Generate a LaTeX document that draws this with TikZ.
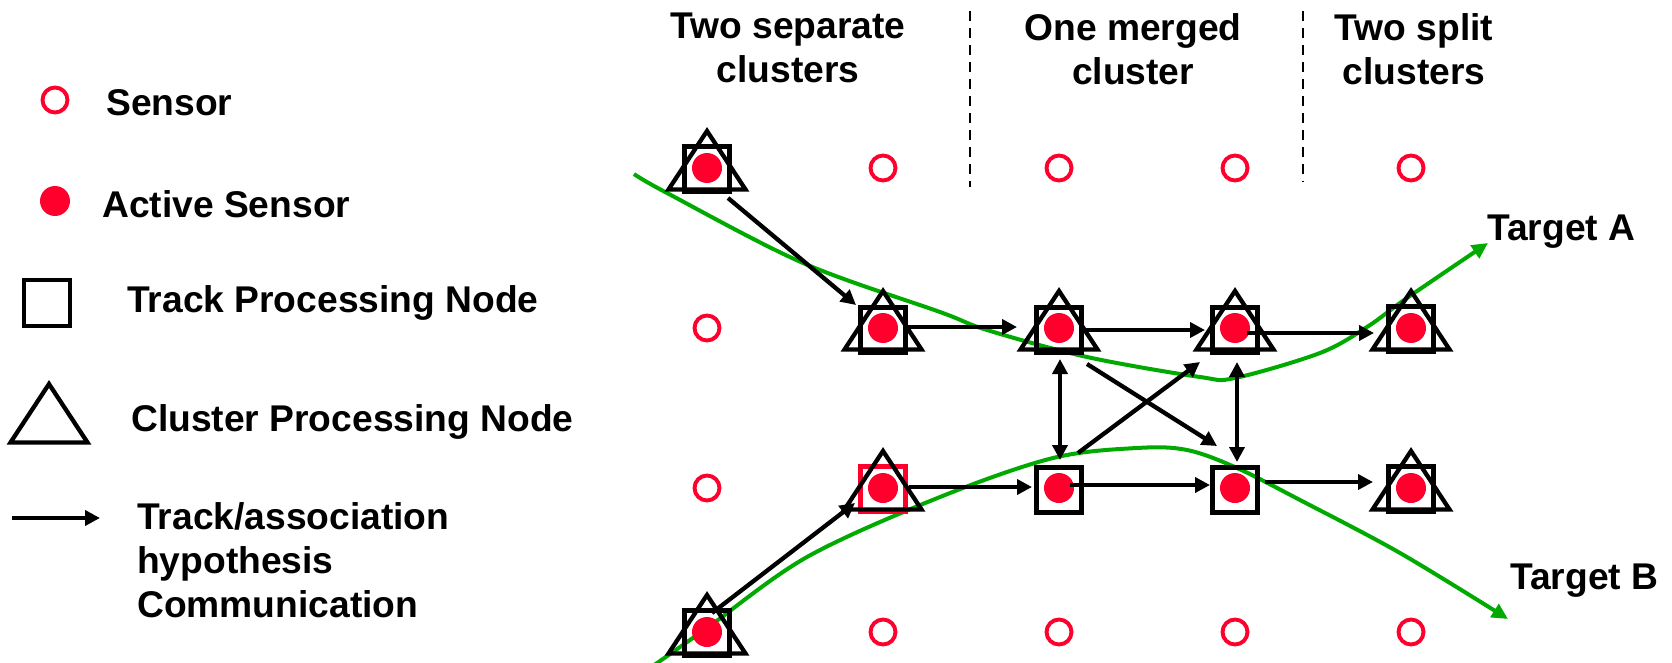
\documentclass[tikz,border=0pt]{standalone}
\usepackage{fontspec}
\setmainfont{Liberation Sans}
\usetikzlibrary{arrows.meta,calc}
\definecolor{sred}{RGB}{255,0,45}
\definecolor{sgreen}{RGB}{0,170,0}
\begin{document}
\begin{tikzpicture}[x=1pt,y=-1pt,
  lbl/.style={font=\fontsize{37.2}{44}\selectfont\bfseries, inner sep=0pt},
  sensor/.style={circle, draw=sred, line width=3.9pt, minimum size=25pt, inner sep=0pt},
  active/.style={circle, fill=sred, minimum size=30pt, inner sep=0pt},
  tpn/.style={draw, line width=4.3pt, minimum size=45pt, inner sep=0pt},
  comm/.style={line width=4.3pt, -{Triangle[length=15pt,width=15pt]}},
  both/.style={line width=4.3pt, {Triangle[length=15pt,width=15pt]}-{Triangle[length=15pt,width=15pt]}},
  track/.style={line width=4pt, sgreen, -{Triangle[length=16pt,width=15pt]}},
  divider/.style={line width=2.4pt, dash pattern=on 10pt off 7pt},
  cpn/.pic={\draw[line width=4.3pt, miter limit=10] (0,-37) -- (38.5,21.5) -- (-38.5,21.5) -- cycle;}
]
\useasboundingbox (0,0) rectangle (1672,663);

% ---------- legend ----------
\node[sensor] (lsen) at (55,100) {};
\node[lbl, anchor=base west] (tsen) at (106,116) {Sensor};
\node[active] (lact) at (55,201) {};
\node[lbl, anchor=base west] (tact) at (102,217) {Active Sensor};
\node[draw, line width=3.6pt, minimum size=46pt, inner sep=0pt] (ltpn) at (47,303) {};
\node[lbl, anchor=base west] (ttpn) at (127,312) {Track Processing Node};
\coordinate (lcpn) at (49,421);
\pic at (lcpn) {cpn};
\node[lbl, anchor=base west] (tcpn) at (131,431) {Cluster Processing Node};
\coordinate (la) at (12,518);
\coordinate (lb) at (100,518);
\draw[comm] (la) -- (lb);
\node[lbl, anchor=north west, align=left] (tcomm) at (137,502) {Track/association\\hypothesis\\Communication};

% ---------- header ----------
\node[lbl, anchor=north, align=center] (h1) at (788,13) {Two separate\\clusters};
\node[lbl, anchor=north, align=center] (h2) at (1133,13) {One merged\\cluster};
\node[lbl, anchor=north, align=center] (h3) at (1414,13) {Two split\\clusters};
\coordinate (d1a) at (970,11); \coordinate (d1b) at (970,187);
\coordinate (d2a) at (1303,11); \coordinate (d2b) at (1303,182);
\draw[divider] (d1a) -- (d1b);
\draw[divider] (d2a) -- (d2b);

% ---------- positions ----------
\coordinate (A1) at (707,168);
\coordinate (B2) at (883,328);
\coordinate (C2) at (1059,328);
\coordinate (D2) at (1235,328);
\coordinate (E2) at (1411,328);
\coordinate (B3) at (883,488);
\coordinate (C3) at (1059,488);
\coordinate (D3) at (1235,488);
\coordinate (E3) at (1411,488);
\coordinate (A4) at (707,632);

% green target tracks
\draw[track] plot[smooth, tension=0.55] coordinates {(634,174) (667,193) (803,263) (940,312) (987,330) (1087,357) (1200,377) (1235,378) (1320,353) (1367,327) (1407,298) (1488,243)};
\draw[track] plot[smooth, tension=0.55] coordinates {(650,668) (707,628) (807,557) (940,497) (1053,458) (1137,448) (1187,450) (1237,468) (1300,500) (1400,553) (1508,619)};
\node[lbl, anchor=base west] (ta) at (1487,240) {Target A};
\node[lbl, anchor=base west] (tb) at (1510,589) {Target B};

% track processing squares, then cluster processing triangles
\node[tpn] (qA1) at ([yshift=-1pt]A1) {};
\node[tpn] (qB2) at ([yshift=-2pt]B2) {};
\node[tpn] (qC2) at ([yshift=-2pt]C2) {};
\node[tpn] (qD2) at ([yshift=-2pt]D2) {};
\node[tpn] (qE2) at ([yshift=-1pt]E2) {};
\node[tpn, draw=sred] (qB3) at ([yshift=-1pt]B3) {};
\node[tpn] (qC3) at ([yshift=-2pt]C3) {};
\node[tpn] (qD3) at ([yshift=-2pt]D3) {};
\node[tpn] (qE3) at ([yshift=-1pt]E3) {};
\node[tpn] (qA4) at ([yshift=-1pt]A4) {};
\foreach \p in {A1,B2,C2,D2,E2,B3,E3,A4} { \pic at (\p) {cpn}; }

% active sensors
\foreach \p in {A1,B2,C2,D2,E2,B3,C3,D3,E3,A4} { \node[active] (s\p) at (\p) {}; }

% idle sensors
\node[sensor] (sB1) at (883,168) {};
\node[sensor] (sC1) at (1059,168) {};
\node[sensor] (sD1) at (1235,168) {};
\node[sensor] (sE1) at (1411,168) {};
\node[sensor] (sA2) at (707,328) {};
\node[sensor] (sA3) at (707,488) {};
\node[sensor] (sB4) at (883,632) {};
\node[sensor] (sC4) at (1059,632) {};
\node[sensor] (sD4) at (1235,632) {};
\node[sensor] (sE4) at (1411,632) {};

% ---------- communication arrows ----------
\draw[comm] ([shift={(21,30)}]sA1.center) -- ([shift={(-27,-23)}]sB2.center);
\draw[comm] ([shift={(24,-1)}]sB2.center) -- ([shift={(-42,-1)}]sC2.center);
\draw[comm] ([shift={(23,2)}]sC2.center) -- ([shift={(-30,2)}]sD2.center);
\draw[comm] ([shift={(12,5)}]sD2.center) -- ([shift={(-37,5)}]sE2.center);
\draw[comm] ([shift={(26,-1)}]sB3.center) -- ([shift={(-27,-1)}]sC3.center);
\draw[comm] ([shift={(11,-3)}]sC3.center) -- ([shift={(-25,-3)}]sD3.center);
\draw[comm] ([shift={(30,-6)}]sD3.center) -- ([shift={(-38,-6)}]sE3.center);
\draw[both] ([shift={(1,31)}]sC2.center) -- ([shift={(1,-28)}]sC3.center);
\draw[both] ([shift={(2,34)}]sD2.center) -- ([shift={(2,-26)}]sD3.center);
\draw[comm] ([shift={(28,36)}]sC2.center) -- ([shift={(-18,-42)}]sD3.center);
\draw[comm] ([shift={(19,-35)}]sC3.center) -- ([shift={(-35,34)}]sD2.center);
\draw[comm] ([shift={(5,-19)}]sA4.center) -- ([shift={(-28,15)}]sB3.center);
\end{tikzpicture}
\end{document}
